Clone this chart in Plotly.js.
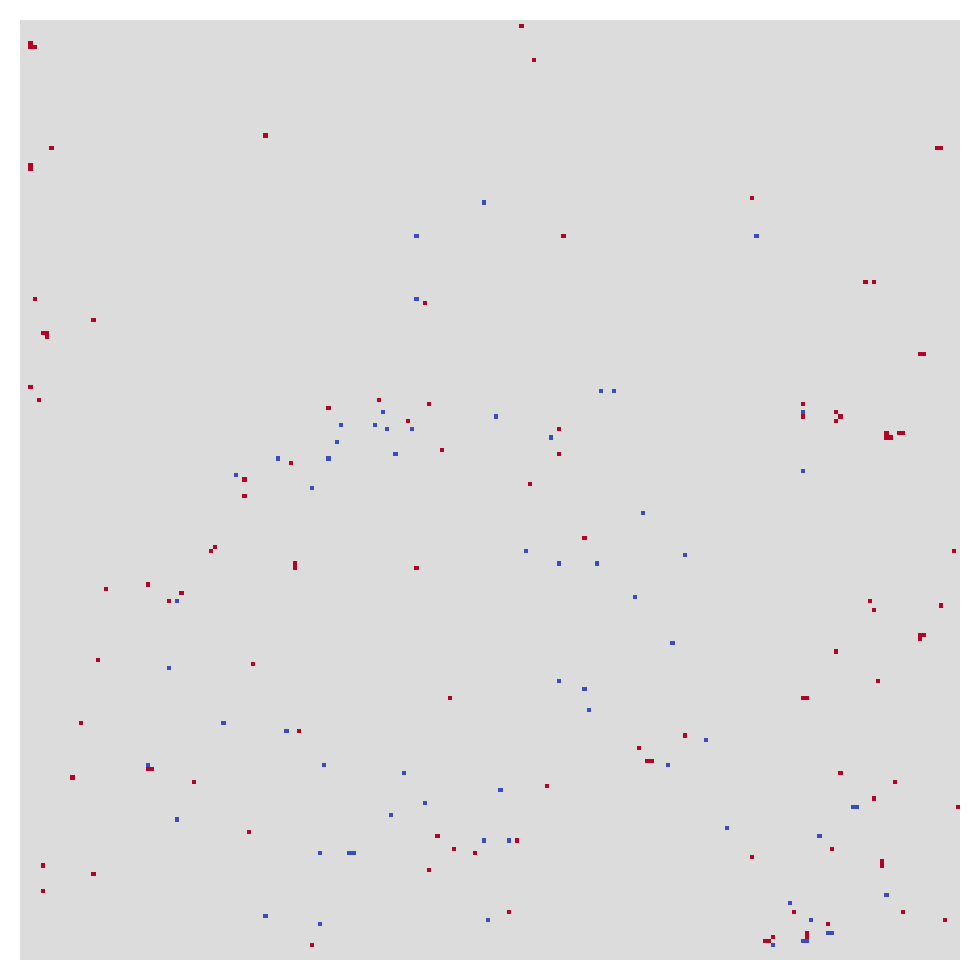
<!DOCTYPE html>
<html>
<head>
<meta charset="utf-8">
<script src="https://cdn.plot.ly/plotly-3.0.1.min.js"></script>
<style>html,body{margin:0;padding:0;background:#fff;}</style>
</head>
<body>
<div id="chart" style="width:980px;height:980px;"></div>
<script>
const gridSize = 224;

const redRows = [5,6,6,27,30,34,35,66,71,74,74,75,67,1,9,30,30,42,51,62,62,87,90,92,90,91,95,102,105,109,113,125,126,129,130,130,134,135,136,138,79,79,91,94,93,94,95,98,99,99,98,98,97,103,110,123,126,138,140,139,146,146,147,152,153,161,167,169,178,178,180,181,193,194,197,198,202,201,203,207,220,150,157,161,161,170,173,176,176,179,181,182,185,187,197,195,199,200,201,212,212,212,214,215,217,218,218,219,219];
const redCols = [2,2,3,58,7,2,2,3,17,5,6,6,96,119,122,218,219,174,129,201,203,2,4,73,85,97,92,100,64,53,53,46,45,65,65,94,30,20,38,35,214,215,186,186,194,195,194,206,206,207,209,210,128,128,121,134,222,202,203,219,214,215,214,18,55,102,14,66,30,31,12,41,54,99,103,108,97,5,17,5,69,194,204,186,187,158,147,149,150,195,208,125,203,223,193,118,174,205,205,184,210,116,220,192,187,187,179,177,178];

const blueRows = [43,51,66,51,93,96,96,97,97,100,103,104,104,108,111,138,88,88,94,93,99,107,117,126,127,129,129,137,148,154,167,169,177,177,179,186,189,190,195,198,198,198,213,215,214,157,159,164,171,177,183,187,187,192,194,195,208,210,214,217,217,219,219,220];
const blueCols = [110,94,94,175,86,76,84,87,93,75,89,61,73,51,69,37,138,141,113,186,126,186,148,120,158,128,137,146,155,35,48,63,72,30,91,96,88,37,110,71,78,79,58,71,111,128,134,135,163,154,114,198,199,168,190,116,206,183,188,192,193,186,187,179];

const z = [];
for (let r = 0; r < gridSize; r++) { z.push(new Array(gridSize).fill(0)); }
redRows.forEach((r, i) => { z[r][redCols[i]] = 1; });
blueRows.forEach((r, i) => { z[r][blueCols[i]] = -1; });

const trace = {
  type: 'heatmap',
  z: z,
  zmin: -1, zmax: 1,
  zsmooth: false,
  showscale: false,
  colorscale: [[0, '#3b4cc0'], [0.5, '#dddcdc'], [1, '#b40426']],
  hoverinfo: 'skip'
};

const axisCommon = {
  showgrid: false, zeroline: false, showticklabels: false, ticks: '',
  showline: false, fixedrange: true
};

const layout = {
  width: 980, height: 980,
  margin: {l: 20, r: 20, t: 20, b: 20, pad: 0},
  paper_bgcolor: '#ffffff',
  plot_bgcolor: '#dddcdc',
  xaxis: Object.assign({}, axisCommon, {range: [-0.5, gridSize - 0.5]}),
  yaxis: Object.assign({}, axisCommon, {range: [gridSize - 0.5, -0.5]}),
  showlegend: false
};

Plotly.newPlot('chart', [trace], layout, {displayModeBar: false, staticPlot: true});
</script>
</body>
</html>
